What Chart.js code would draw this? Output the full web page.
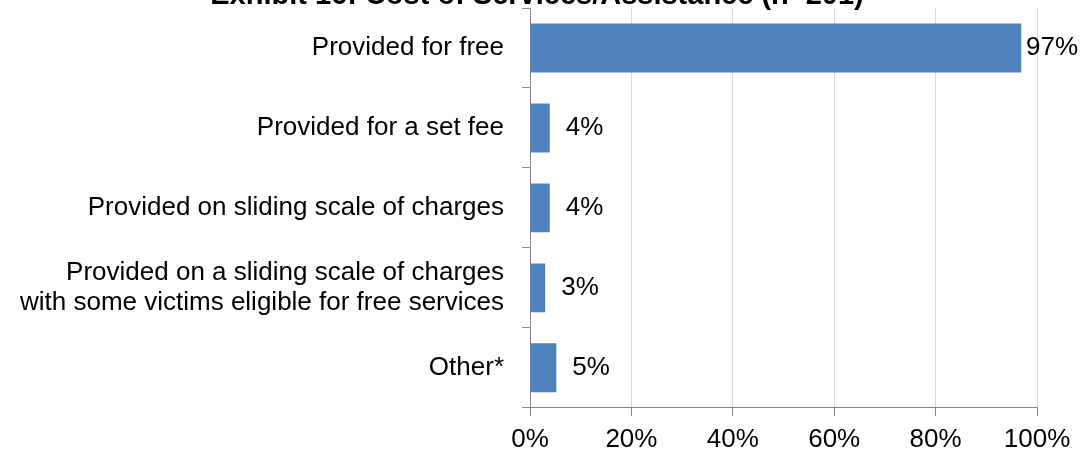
<!DOCTYPE html>
<html>
<head>
<meta charset="utf-8">
<script src="https://cdn.jsdelivr.net/npm/chart.js@4/dist/chart.umd.min.js"></script>
<style>
  html, body { margin: 0; padding: 0; background: #ffffff; overflow: hidden; width: 1081px; height: 451px; }
  #wrap { position: absolute; left: 0; top: -25px; width: 1081px; height: 488px; }
</style>
</head>
<body>
<div id="wrap"><canvas id="c"></canvas></div>
<script>
const titleText = "Exhibit 16: Cost of Services/Assistance (n=201)";
const categories = [
  "Provided for free",
  "Provided for a set fee",
  "Provided on sliding scale of charges",
  ["Provided on a sliding scale of charges", "with some victims eligible for free services"],
  "Other*"
];
const values = [96.9, 3.9, 3.9, 3.0, 5.2];
const valueLabels = ["97%", "4%", "4%", "3%", "5%"];
const xTicks = [0, 20, 40, 60, 80, 100];

const FONT = "'Liberation Sans', Arial, sans-serif";

const valueLabelPlugin = {
  id: 'valueLabels',
  afterDatasetsDraw(chart) {
    const ctx = chart.ctx;
    const meta = chart.getDatasetMeta(0);
    ctx.save();
    ctx.font = "26px " + FONT;
    ctx.fillStyle = "#000000";
    ctx.textAlign = "left";
    ctx.textBaseline = "middle";
    meta.data.forEach((bar, i) => {
      const t = valueLabels[i];
      const w = ctx.measureText(t).width;
      const x = Math.min(bar.x + 16, chart.width - 3 - w);
      ctx.fillText(t, x, bar.y);
    });
    ctx.restore();
  }
};

new Chart(document.getElementById('c'), {
  type: 'bar',
  data: {
    labels: categories,
    datasets: [{
      data: values,
      backgroundColor: '#4F81BD',
      borderWidth: 0,
      barPercentage: 0.9,
      categoryPercentage: 0.68
    }]
  },
  options: {
    indexAxis: 'y',
    responsive: true,
    maintainAspectRatio: false,
    animation: false,
    layout: { padding: { left: 0, right: 7, top: 0, bottom: 0 } },
    plugins: {
      legend: { display: false },
      tooltip: { enabled: false },
      title: {
        display: true,
        text: titleText,
        color: '#000000',
        font: { family: FONT, size: 29, weight: 'bold', lineHeight: 0.86 },
        padding: { top: 0, bottom: 0 }
      }
    },
    scales: {
      x: {
        min: 0,
        max: 100,
        afterBuildTicks(scale) { scale.ticks = xTicks.map(v => ({ value: v })); },
        ticks: {
          callback: v => v + '%',
          color: '#000000',
          padding: 8,
          font: { family: FONT, size: 26, lineHeight: 1.2 }
        },
        grid: { color: '#D9D9D9', tickColor: '#868686', tickLength: 8, lineWidth: 1 },
        border: { color: '#868686', width: 1 }
      },
      y: {
        afterFit(scale) { scale.width = 530; },
        ticks: {
          color: '#000000',
          padding: 18,
          font: { family: FONT, size: 26, lineHeight: 1.154 }
        },
        grid: { drawOnChartArea: false, color: '#868686', tickLength: 8 },
        border: { color: '#868686', width: 1 }
      },
      yRightSpace: {
        type: 'linear',
        position: 'right',
        display: true,
        afterFit(scale) { scale.width = 37; },
        ticks: { display: false },
        grid: { display: false },
        border: { display: false }
      }
    }
  },
  plugins: [valueLabelPlugin]
});
</script>
</body>
</html>
